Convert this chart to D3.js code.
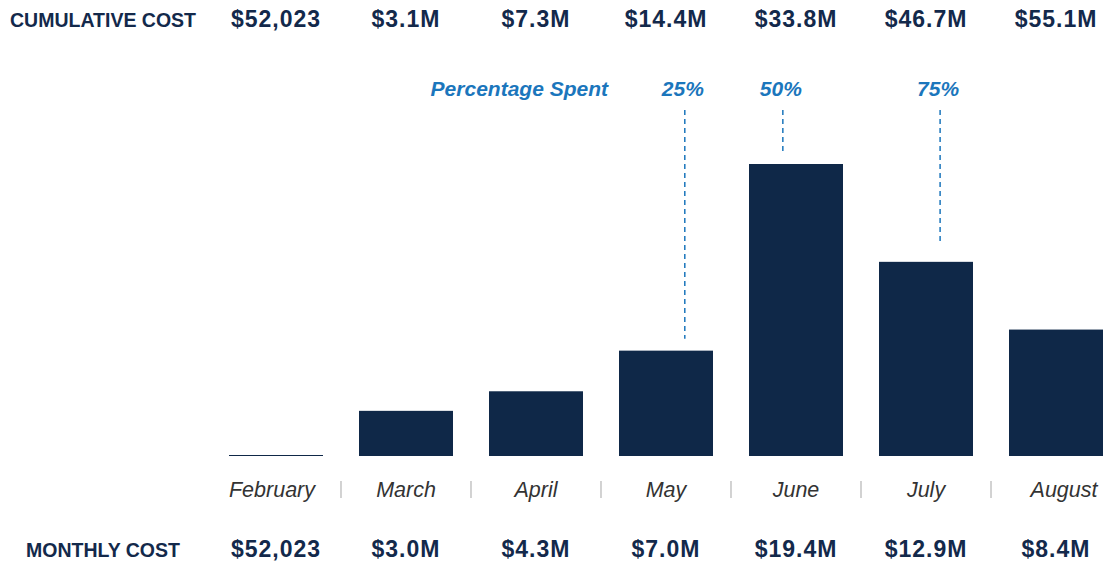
<!DOCTYPE html>
<html>
<head>
<meta charset="utf-8">
<script src="https://cdn.jsdelivr.net/npm/d3@7"></script>
<style>
  html, body { margin: 0; padding: 0; background: #fff; }
  svg { display: block; }
</style>
</head>
<body>
<div id="chart"></div>
<script>
// Monthly spend, in millions of dollars
const months = ["February", "March", "April", "May", "June", "July", "August"];
const monthlyCost = [0.052023, 3.0, 4.3, 7.0, 19.4, 12.9, 8.4];
const monthlyLabels = ["$52,023", "$3.0M", "$4.3M", "$7.0M", "$19.4M", "$12.9M", "$8.4M"];
const cumulativeLabels = ["$52,023", "$3.1M", "$7.3M", "$14.4M", "$33.8M", "$46.7M", "$55.1M"];

// Spending milestones: month they fall in and how far through that month
const milestoneLabels = ["25%", "50%", "75%"];
const milestoneMonths = ["May", "June", "July"];
const milestoneFraction = [0.70, 0.36, 0.65];

const W = 1103, H = 565;
const navy = "#0f2848";
const textNavy = "#13294b";
const blue = "#1b76bc";
const font = "'Liberation Sans', Arial, sans-serif";

const svg = d3.select("#chart").append("svg")
  .attr("width", W).attr("height", H);

const x = d3.scaleBand()
  .domain(months)
  .range([229, 1103])
  .paddingInner(0.277)
  .paddingOuter(0);

const y = d3.scaleLinear()
  .domain([0, 19.4])
  .range([456, 164]);

// Bars
svg.append("g").selectAll("rect")
  .data(months)
  .join("rect")
  .attr("x", d => x(d))
  .attr("width", x.bandwidth())
  .attr("y", (d, i) => Math.min(y(monthlyCost[i]), 455))
  .attr("height", (d, i) => Math.max(y(0) - y(monthlyCost[i]), 1))
  .attr("fill", navy);

// Month axis labels (end labels nudged inward/outward to sit clear of the separators)
const labelNudge = { February: -4, August: 8 };
const axis = d3.axisBottom(x).tickSize(0).tickPadding(0);
const gAxis = svg.append("g").attr("transform", "translate(0,497)").call(axis);
gAxis.select(".domain").remove();
gAxis.selectAll("text")
  .attr("dy", 0)
  .attr("x", d => labelNudge[d] || 0)
  .attr("font-family", font)
  .attr("font-style", "italic")
  .attr("font-size", 21.5)
  .attr("fill", "#333");

// Separators between months
svg.append("g").selectAll("line")
  .data(months.slice(1))
  .join("line")
  .attr("x1", d => x(d) - (x.step() - x.bandwidth()) / 2)
  .attr("x2", d => x(d) - (x.step() - x.bandwidth()) / 2)
  .attr("y1", 481).attr("y2", 498)
  .attr("stroke", "#b5b5b5").attr("stroke-width", 1.2);

// Row headers
function header(text, yPos) {
  svg.append("text")
    .attr("x", 103).attr("y", yPos)
    .attr("text-anchor", "middle")
    .attr("font-family", font)
    .attr("font-weight", "bold")
    .attr("font-size", 19.5)
    .attr("fill", textNavy)
    .text(text);
}
header("CUMULATIVE COST", 27);
header("MONTHLY COST", 557);

function valueRow(labels, yPos) {
  svg.append("g").selectAll("text")
    .data(labels)
    .join("text")
    .attr("x", (d, i) => x(months[i]) + x.bandwidth() / 2)
    .attr("y", yPos)
    .attr("text-anchor", "middle")
    .attr("font-family", font)
    .attr("font-weight", "bold")
    .attr("font-size", 23)
    .attr("letter-spacing", 1)
    .attr("fill", textNavy)
    .text(d => d);
}
valueRow(cumulativeLabels, 27);
valueRow(monthlyLabels, 557);

// Milestone markers
const markerGap = [12, 12, 18];
const mx = i => x(milestoneMonths[i]) + x.bandwidth() * milestoneFraction[i];
const barTop = i => y(monthlyCost[months.indexOf(milestoneMonths[i])]);

svg.append("text")
  .attr("x", 608).attr("y", 96)
  .attr("text-anchor", "end")
  .attr("font-family", font)
  .attr("font-weight", "bold")
  .attr("font-style", "italic")
  .attr("font-size", 21)
  .attr("fill", blue)
  .text("Percentage Spent");

const gm = svg.append("g");
gm.selectAll("text")
  .data(milestoneLabels)
  .join("text")
  .attr("x", (d, i) => mx(i) - 2)
  .attr("y", 96)
  .attr("text-anchor", "middle")
  .attr("font-family", font)
  .attr("font-weight", "bold")
  .attr("font-style", "italic")
  .attr("font-size", 21)
  .attr("fill", blue)
  .text(d => d);

gm.selectAll("line")
  .data(milestoneLabels)
  .join("line")
  .attr("x1", (d, i) => mx(i))
  .attr("x2", (d, i) => mx(i))
  .attr("y1", 110)
  .attr("y2", (d, i) => barTop(i) - markerGap[i])
  .attr("stroke", blue)
  .attr("stroke-width", 1.5)
  .attr("stroke-dasharray", "5,4");
</script>
</body>
</html>
